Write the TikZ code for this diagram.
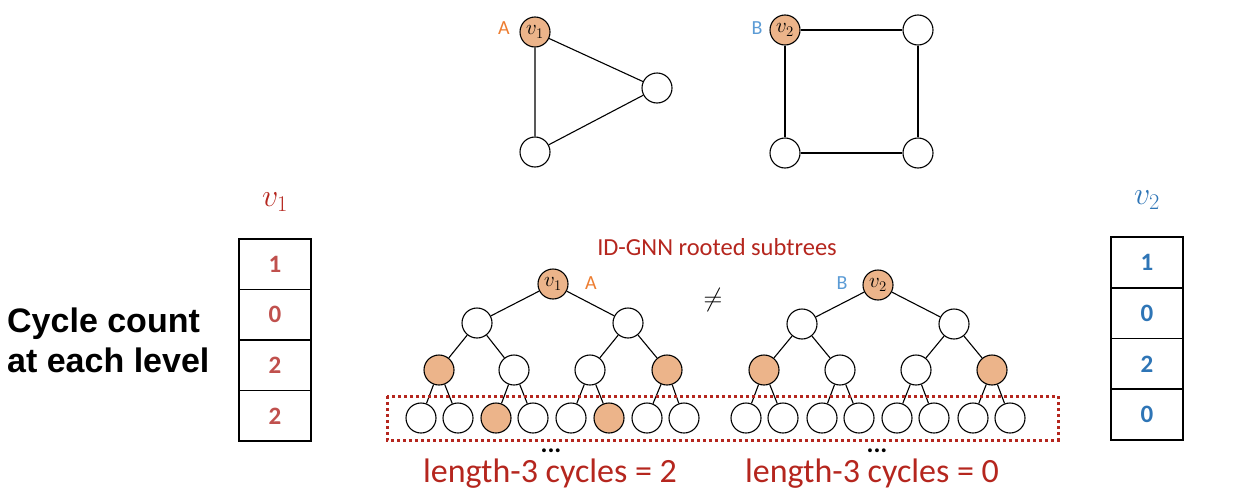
\RequirePackage{fix-cm}
\documentclass[tikz,border=0pt]{standalone}
\usepackage{fontspec}
\setmainfont{Carlito}
\newfontfamily\arialfont{Liberation Sans}
\usetikzlibrary{positioning}
\definecolor{vfill}{HTML}{ECB48A}
\definecolor{dred}{HTML}{B5261E}
\definecolor{nred}{HTML}{C0504D}
\definecolor{nblue}{HTML}{2E75B6}
\definecolor{aorange}{HTML}{ED7D31}
\definecolor{bblue}{HTML}{5B9BD5}
\tikzset{
  vtx/.style={circle,draw=black,line width=1.1pt,minimum size=30pt,inner sep=0pt,fill=white,font=\fontsize{21}{21}\selectfont},
  hl/.style={vtx,fill=vfill},
  edge/.style={draw=black,line width=1.1pt},
  cell/.style={rectangle,draw=black,line width=1.5pt,minimum width=72pt,minimum height=50.5pt,inner sep=0pt,font=\bfseries\fontsize{25}{25}\selectfont},
  lblA/.style={text=aorange,font=\fontsize{20}{20}\selectfont},
  lblB/.style={text=bblue,font=\fontsize{20}{20}\selectfont},
  redtxt/.style={text=dred},
  dotsstyle/.style={font=\bfseries\fontsize{26}{26}\selectfont,inner sep=0pt,anchor=base},
  captionstyle/.style={text=dred,font=\fontsize{34}{34}\selectfont,inner sep=0pt,anchor=base},
}
\begin{document}
\begin{tikzpicture}[x=1pt,y=-1pt]
\useasboundingbox (0,0) rectangle (1248,498);
% ---- top graphs
\node[hl] (a1) at (535,32) {$v_1$};
\node[vtx] (a2) at (657,88) {};
\node[vtx] (a3) at (535,152) {};
\node[lblA] (la) at (504,28) {A};
\draw[edge] (a1) -- (a2) (a1) -- (a3) (a3) -- (a2);
\node[hl] (b1) at (785,30) {$v_2$};
\node[vtx] (b2) at (918,30) {};
\node[vtx] (b3) at (785,153) {};
\node[vtx] (b4) at (918,153) {};
\node[lblB] (lb) at (757,28) {B};
\draw[edge] (b1) -- (b2) (b1) -- (b3) (b3) -- (b4) (b2) -- (b4);
% ---- title
\node[redtxt,font=\fontsize{24.5}{24.5}\selectfont] (title) at (717,247) {ID-GNN rooted subtrees};
\node[font=\fontsize{26}{26}\selectfont] (neq) at (713,300) {$\neq$};
% ---- left tree
\node[hl] (l0) at (553,284) {$v_1$};
\node[lblA] (lA) at (591,283) {A};
\node[vtx] (l10) at (477,323) {};
\node[vtx] (l11) at (628,323) {};
\node[hl]  (l20) at (439,370) {};
\node[vtx] (l21) at (514,370) {};
\node[vtx] (l22) at (590,370) {};
\node[hl]  (l23) at (667,370) {};
\node[vtx] (l30) at (421,418) {};
\node[vtx] (l31) at (458,418) {};
\node[hl]  (l32) at (496,418) {};
\node[vtx] (l33) at (533,418) {};
\node[vtx] (l34) at (571,418) {};
\node[hl]  (l35) at (609,418) {};
\node[vtx] (l36) at (647,418) {};
\node[vtx] (l37) at (684,418) {};
\draw[edge] (l0)--(l10) (l0)--(l11)
  (l10)--(l20) (l10)--(l21) (l11)--(l22) (l11)--(l23)
  (l20)--(l30) (l20)--(l31) (l21)--(l32) (l21)--(l33)
  (l22)--(l34) (l22)--(l35) (l23)--(l36) (l23)--(l37);
% ---- right tree
\node[hl] (r0) at (878,285) {$v_2$};
\node[lblB] (rB) at (842,283) {B};
\node[vtx] (r10) at (802,324) {};
\node[vtx] (r11) at (954,324) {};
\node[hl]  (r20) at (764,370) {};
\node[vtx] (r21) at (840,370) {};
\node[vtx] (r22) at (916,370) {};
\node[hl]  (r23) at (992,370) {};
\node[vtx] (r30) at (746,418) {};
\node[vtx] (r31) at (783,418) {};
\node[vtx] (r32) at (822,418) {};
\node[vtx] (r33) at (859,418) {};
\node[vtx] (r34) at (897,418) {};
\node[vtx] (r35) at (934,418) {};
\node[vtx] (r36) at (973,418) {};
\node[vtx] (r37) at (1010,418) {};
\draw[edge] (r0)--(r10) (r0)--(r11)
  (r10)--(r20) (r10)--(r21) (r11)--(r22) (r11)--(r23)
  (r20)--(r30) (r20)--(r31) (r21)--(r32) (r21)--(r33)
  (r22)--(r34) (r22)--(r35) (r23)--(r36) (r23)--(r37);
% ---- dotted box
\draw[dred,line width=3pt,dash pattern=on 3pt off 3pt] (387,396) rectangle (1058,440);
% ---- dots and captions
\node[dotsstyle] (dl) at (551,452) {...};
\node[dotsstyle] (dr) at (877,452) {...};
\node[captionstyle] (cl) at (550,482) {length-3 cycles = 2};
\node[captionstyle] (cr) at (872,482) {length-3 cycles = 0};
% ---- left vector
\node[text=dred,font=\fontsize{32}{32}\selectfont] (v1lab) at (275,202) {$v_1$};
\node[cell,text=nred] (c1) at (275,264.3) {1};
\node[cell,text=nred] (c2) at (275,314.8) {0};
\node[cell,text=nred] (c3) at (275,365.3) {2};
\node[cell,text=nred] (c4) at (275,415.8) {2};
% ---- right vector
\node[text=nblue,font=\fontsize{32}{32}\selectfont] (v2lab) at (1147,200) {$v_2$};
\node[cell,text=nblue] (d1) at (1147,262.4) {1};
\node[cell,text=nblue] (d2) at (1147,313.1) {0};
\node[cell,text=nblue] (d3) at (1147,363.9) {2};
\node[cell,text=nblue] (d4) at (1147,414.6) {0};
% ---- side label
\node[anchor=west,align=left,inner sep=0pt,font=\arialfont\bfseries\fontsize{34}{40}\selectfont] (side) at (7,340) {Cycle count\\at each level};
\end{tikzpicture}
\end{document}
